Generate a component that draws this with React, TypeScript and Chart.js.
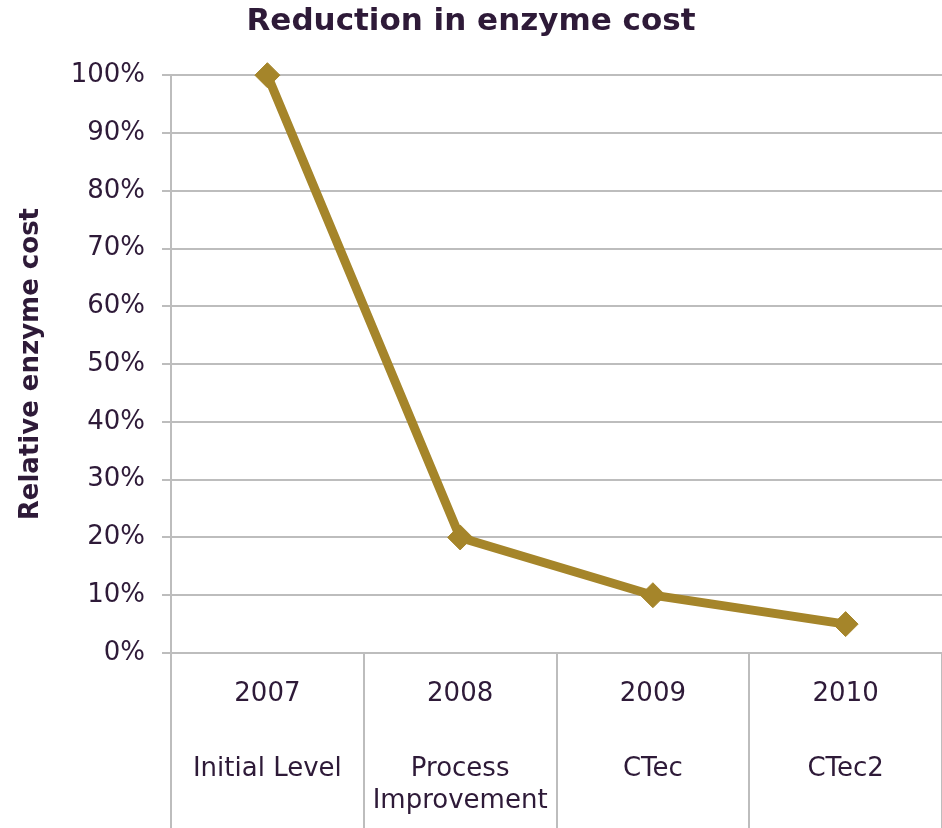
import React, { useEffect, useRef } from "react";
import { Chart, registerables } from "chart.js";

Chart.register(...registerables);

const years = ["2007", "2008", "2009", "2010"];
const stages = [["Initial Level"], ["Process", "Improvement"], ["CTec"], ["CTec2"]];
const relativeCost = [100, 20, 10, 5];
const yTicks = [0, 10, 20, 30, 40, 50, 60, 70, 80, 90, 100];

const TEXT = "#2e1a38";
const GRID = "#bdbdbd";
const LINE = "#a5852a";
const FONT = "'DejaVu Sans', Verdana, sans-serif";

const categoryLabels = {
  id: "categoryLabels",
  afterDraw(chart: any) {
    const { ctx, chartArea } = chart;
    const xs = chart.scales.x;
    ctx.save();
    ctx.fillStyle = TEXT;
    ctx.textAlign = "center";
    ctx.textBaseline = "middle";
    years.forEach((yr, i) => {
      const x = xs.getPixelForValue(i);
      ctx.font = `26px ${FONT}`;
      ctx.fillText(yr, x, chartArea.bottom + 41);
      ctx.font = `26px ${FONT}`;
      stages[i].forEach((line, j) => {
        ctx.fillText(line, x, chartArea.bottom + 116 + j * 32);
      });
    });
    ctx.restore();
  },
};

export default function App() {
  const ref = useRef<HTMLCanvasElement | null>(null);
  useEffect(() => {
    if (!ref.current) return;
    const chart = new Chart(ref.current, {
      type: "line",
      data: {
        labels: years,
        datasets: [
          {
            data: relativeCost,
            borderColor: LINE,
            backgroundColor: LINE,
            borderWidth: 9,
            pointStyle: "rectRot",
            pointRadius: 12.5,
            pointBackgroundColor: LINE,
            pointBorderColor: LINE,
            pointBorderWidth: 1,
            tension: 0,
            clip: false,
          } as any,
        ],
      },
      options: {
        animation: false,
        responsive: false,
        maintainAspectRatio: false,
        layout: { padding: 0, autoPadding: false },
        plugins: {
          legend: { display: false },
          tooltip: { enabled: false },
          title: {
            display: true,
            text: "Reduction in enzyme cost",
            color: TEXT,
            font: { family: FONT, size: 31, weight: "bold" },
            padding: { top: 3, bottom: 35 },
          },
        },
        scales: {
          x: {
            offset: true,
            grid: {
              offset: true,
              drawOnChartArea: false,
              drawTicks: true,
              tickLength: 175,
              color: GRID,
              lineWidth: 2,
            },
            border: { display: false },
            ticks: { display: false },
          },
          y: {
            min: 0,
            max: 100,
            afterBuildTicks(scale: any) {
              scale.ticks = yTicks.map((v) => ({ value: v }));
            },
            afterFit(scale: any) {
              scale.width = 171;
            },
            grid: {
              color: GRID,
              lineWidth: 2,
              tickLength: 9,
              drawTicks: true,
            },
            border: { display: true, color: GRID, width: 2 },
            ticks: {
              color: TEXT,
              padding: 17,
              font: { family: FONT, size: 26 },
              callback: (v: any) => `${v}%`,
            },
            title: {
              display: true,
              text: "Relative enzyme cost",
              color: TEXT,
              font: { family: FONT, size: 26, weight: "bold" },
              padding: { top: 16, bottom: 0 },
            },
          },
        },
      },
      plugins: [categoryLabels],
    });
    return () => chart.destroy();
  }, []);
  return (
    <div style={{ position: "fixed", left: 0, top: 0, width: 942, height: 828, background: "#fff" }}>
      <canvas ref={ref} width={942} height={828} style={{ display: "block" }} />
    </div>
  );
}
